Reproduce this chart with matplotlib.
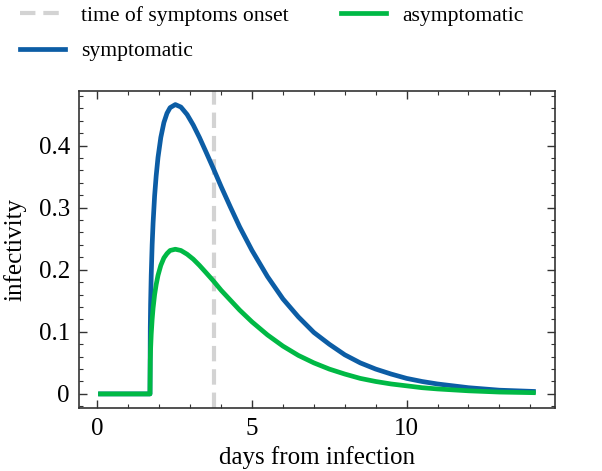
import matplotlib
matplotlib.use("Agg")
import matplotlib.pyplot as plt
from matplotlib.ticker import MultipleLocator

# values
days = [0.1, 1.7, 1.71, 1.72, 1.74, 1.77, 1.80, 1.85, 1.90, 1.96, 2.05, 2.15, 2.25, 2.35,
        2.52, 2.7, 2.9, 3.1, 3.3, 3.5, 3.75, 4.0, 4.3, 4.6, 5.0, 5.5, 6.0, 6.5, 7.0,
        7.5, 8.0, 8.5, 9.0, 9.5, 10.0, 10.5, 11.0, 12.0, 13.0, 14.1]
infect_sym = [0.0, 0.0, 0.107, 0.144, 0.191, 0.240, 0.275, 0.319, 0.351, 0.381, 0.413, 0.437,
              0.452, 0.461, 0.466, 0.462, 0.450, 0.433, 0.413, 0.391, 0.363, 0.334, 0.301, 0.269,
              0.231, 0.189, 0.153, 0.124, 0.099, 0.080, 0.063, 0.050, 0.040, 0.032, 0.025, 0.020,
              0.016, 0.010, 0.006, 0.004]
infect_asym = [0.0, 0.0, 0.054, 0.072, 0.096, 0.120, 0.138, 0.160, 0.176, 0.191, 0.207, 0.219,
               0.226, 0.231, 0.233, 0.231, 0.225, 0.217, 0.207, 0.196, 0.182, 0.167, 0.151, 0.135,
               0.116, 0.095, 0.077, 0.062, 0.050, 0.040, 0.032, 0.025, 0.020, 0.016, 0.013, 0.010,
               0.008, 0.005, 0.003, 0.002]

onset_day = 3.78

plt.rcParams["font.family"] = ["Liberation Serif", "DejaVu Serif"]

fig = plt.figure(figsize=(6.02, 4.71), dpi=100)
ax = fig.add_axes([0.131, 0.134, 0.791, 0.673])

onset = ax.axvline(onset_day, color="#d3d3d3", linestyle="--", linewidth=3,
                   dashes=(3.7, 1.9), label="time of symptoms onset")
sym, = ax.plot(days, infect_sym, color="#0C5DA5", linewidth=3.4, label="symptomatic")
asym, = ax.plot(days, infect_asym, color="#00B945", linewidth=3.4, label="asymptomatic")

ax.set_xlabel("days from infection", fontsize=18, labelpad=4)
ax.set_ylabel("infectivity", fontsize=18, labelpad=9)

ax.set_xticks([0, 5, 10])
ax.set_xticklabels(["0", "5", "10"])
ax.set_yticks([0, 0.1, 0.2, 0.3, 0.4])
ax.set_yticklabels(["0", "0.1", "0.2", "0.3", "0.4"])
ax.xaxis.set_minor_locator(MultipleLocator(1))
ax.yaxis.set_minor_locator(MultipleLocator(0.02))
ax.set_xlim(-0.6, 14.8)
ax.set_ylim(-0.0225, 0.488)

ax.tick_params(which="both", direction="in", top=True, right=True, labelsize=18, color="#333333")
ax.tick_params(which="major", length=6, width=1)
ax.tick_params(which="minor", length=3, width=0.8)
ax.tick_params(axis="x", which="major", pad=7.5)
ax.tick_params(axis="y", which="major", pad=6.5)
for s in ax.spines.values():
    s.set_linewidth(1.2)
    s.set_color("#333333")

fig.legend(handles=[onset, sym, asym], loc="upper left", bbox_to_anchor=(0.0, 1.03),
           ncol=2, frameon=False, fontsize=15.6, handlelength=2.1, handletextpad=0.75,
           columnspacing=2.4, labelspacing=0.72)

fig.savefig("out.png", dpi=100)
